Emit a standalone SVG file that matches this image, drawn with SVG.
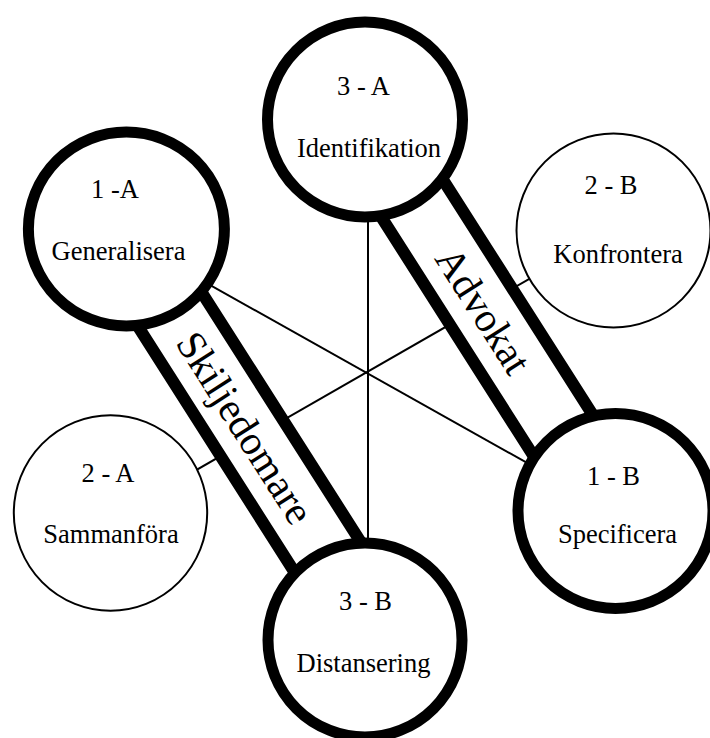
<svg xmlns="http://www.w3.org/2000/svg" width="710" height="738" viewBox="0 0 710 738">
<style>
.thin{fill:none;stroke:#000;stroke-width:2}
.band{fill:#fff;stroke:#000;stroke-width:12}
.n-thick{fill:#fff;stroke:#000;stroke-width:11}
.n-thin{fill:#fff;stroke:#000;stroke-width:2}
text{font-family:"Liberation Serif","Times New Roman",serif;fill:#000}
.lbl{font-size:26.5px;text-anchor:middle}
.blbl{font-size:41px;text-anchor:middle}
</style>
<rect width="710" height="738" fill="#fff"/>
<g id="connectors">
<line class="thin" x1="368" y1="140" x2="368" y2="620"/>
<line class="thin" x1="150" y1="251.3" x2="560" y2="481.4"/>
<line class="thin" x1="150" y1="496.6" x2="580" y2="249.8"/>
<g id="edge-skiljedomare" transform="rotate(57.5)">
<rect class="band" x="261" y="-13" width="474" height="72"/>
<text class="blbl" x="492.5" y="37">Skiljedomare</text>
</g>
<g id="edge-advokat" transform="rotate(57.5)">
<rect class="band" x="297" y="-277" width="464" height="72"/>
<text class="blbl" x="521.6" y="-227">Advokat</text>
</g>
</g>
<g id="node-3a">
<ellipse class="n-thick" cx="365" cy="119.5" rx="97.5" ry="97.5"/>
<text class="lbl" x="363.5" y="95">3 - A</text>
<text class="lbl" x="369" y="157">Identifikation</text>
</g>
<g id="node-1a">
<ellipse class="n-thick" cx="126.4" cy="229" rx="98" ry="97"/>
<text class="lbl" x="115" y="198">1 -A</text>
<text class="lbl" x="118.5" y="260">Generalisera</text>
</g>
<g id="node-2b">
<ellipse class="n-thin" cx="613.5" cy="230.5" rx="97" ry="97"/>
<text class="lbl" x="611" y="194">2 - B</text>
<text class="lbl" x="618" y="263">Konfrontera</text>
</g>
<g id="node-2a">
<ellipse class="n-thin" cx="110.5" cy="513" rx="96.7" ry="97.8"/>
<text class="lbl" x="108" y="481.7">2 - A</text>
<text class="lbl" x="111" y="543">Sammanföra</text>
</g>
<g id="node-1b">
<ellipse class="n-thick" cx="615.5" cy="511" rx="97.5" ry="97.5"/>
<text class="lbl" x="613.5" y="485">1 - B</text>
<text class="lbl" x="617.5" y="543">Specificera</text>
</g>
<g id="node-3b">
<ellipse class="n-thick" cx="365" cy="640" rx="97" ry="97"/>
<text class="lbl" x="365.5" y="610">3 - B</text>
<text class="lbl" x="363.5" y="671.7">Distansering</text>
</g>
</svg>
